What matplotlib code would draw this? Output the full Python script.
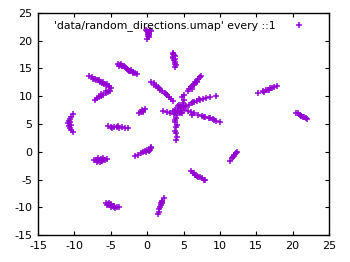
import numpy as np
import matplotlib
matplotlib.use('Agg')
import matplotlib.pyplot as plt

# Puntos, agrupados por cada "rama" del embedding
top_x = [-0.1, 0.0, 0.1, 0.2, 0.3, 0.5, 0.1, 0.0, 0.2, 0.4, 0.1, 0.3]
top_y = [21.9, 21.7, 21.5, 21.2, 21.0, 21.8, 20.8, 20.4, 20.6, 22.0, 21.3, 21.6]

vert_x = [3.6, 3.7, 3.5, 3.8, 3.7, 3.9, 3.8, 4.0, 3.9, 3.6, 3.8, 3.6]
vert_y = [17.8, 17.4, 17.1, 16.8, 16.5, 16.2, 15.9, 15.6, 15.3, 17.6, 17.2, 16.9]

diag_x = [-4.0, -3.7, -3.4, -3.1, -2.9, -2.6, -2.3, -2.0, -1.7, -1.4, -3.5, -2.8,
          -3.8, -3.2, -2.5, -2.2, -1.9, -3.6]
diag_y = [15.9, 15.6, 15.4, 15.2, 15.0, 14.8, 14.6, 14.4, 14.2, 14.0, 15.5, 14.9,
          15.5, 15.4, 14.6, 14.7, 14.2, 15.9]

arrow_x = [-8.0, -7.6, -7.2, -6.8, -6.5, -6.2, -5.9, -5.6, -5.3, -5.0,
           -5.1, -5.4, -5.7, -6.0, -6.3, -6.6, -6.9, -7.1,
           -7.4, -7.0, -6.6, -6.0, -5.5, -5.2, -5.6, -6.4]
arrow_y = [13.6, 13.4, 13.1, 12.9, 12.6, 12.4, 12.2, 12.0, 11.7, 11.4,
           11.0, 10.7, 10.5, 10.3, 10.1, 9.9, 9.7, 9.4,
           13.1, 13.0, 12.9, 12.5, 12.2, 11.9, 10.9, 10.4]

mid_x = [0.6, 0.9, 1.2, 1.5, 1.8, 2.1, 2.4, 2.7, 3.0, 3.3, 3.5, 1.0, 1.6, 2.6]
mid_y = [12.6, 12.3, 11.9, 11.6, 11.2, 10.9, 10.5, 10.2, 9.8, 9.5, 9.2, 12.0, 11.4, 10.4]

up_x = [5.6, 5.8, 6.0, 6.2, 6.4, 6.6, 6.8, 7.0, 7.2, 7.4, 6.1, 6.5, 6.9]
up_y = [11.0, 11.3, 11.6, 11.9, 12.2, 12.5, 12.8, 13.1, 13.4, 13.7, 11.3, 12.0, 12.6]

hub_x = [4.0, 4.3, 4.6, 4.9, 4.2, 4.5, 4.8, 3.8, 4.4, 5.0, 4.7, 4.1,
         4.9, 5.0, 4.8, 5.1, 2.2, 2.7, 3.2, 3.7, 3.5, 4.6, 5.2, 4.3]
hub_y = [7.0, 7.4, 7.8, 8.2, 7.9, 7.2, 6.9, 7.6, 8.5, 7.5, 8.0, 6.7,
         8.8, 9.3, 9.8, 10.2, 7.3, 7.1, 6.9, 6.8, 7.3, 7.0, 8.0, 8.3]

ray_x = [5.3, 5.7, 6.1, 6.5, 6.9, 7.3, 7.7, 8.1, 8.6, 9.5, 6.3, 7.1]
ray_y = [8.3, 8.5, 8.7, 8.9, 9.1, 9.3, 9.5, 9.6, 9.8, 10.0, 9.0, 9.5]

down_x = [5.6, 6.0, 6.5, 7.0, 7.5, 8.0, 8.5, 9.0, 9.5, 10.0, 6.2, 8.7, 7.8, 9.2]
down_y = [7.4, 7.1, 6.9, 6.7, 6.5, 6.3, 6.1, 5.9, 5.6, 5.4, 6.6, 6.0, 6.2, 5.8]

stem_x = [4.0, 3.9, 4.1, 4.0, 3.9, 4.0, 4.1, 4.0, 3.9]
stem_y = [6.0, 5.4, 4.9, 4.4, 3.8, 3.3, 2.7, 2.2, 5.7]

small_x = [-1.1, -0.8, -0.5, -0.3, -0.7, -0.6]
small_y = [7.0, 7.2, 7.4, 7.7, 7.6, 7.1]

right_x = [15.2, 15.9, 16.3, 16.6, 16.9, 17.2, 17.5, 17.8, 16.1, 16.8]
right_y = [10.6, 10.9, 11.1, 11.2, 11.4, 11.5, 11.7, 11.9, 10.8, 11.1]

far_x = [20.5, 20.8, 21.0, 21.2, 21.4, 21.6, 21.8, 22.0, 21.1]
far_y = [7.0, 6.9, 6.7, 6.5, 6.3, 6.2, 6.0, 5.9, 6.4]

curve_x = [-10.2, -10.4, -10.6, -10.8, -10.9, -10.8, -10.6, -10.4, -10.2, -10.6, -10.5]
curve_y = [6.8, 6.3, 5.9, 5.5, 5.1, 4.7, 4.3, 3.9, 3.6, 5.3, 4.9]

flat_x = [-5.4, -5.0, -4.6, -4.2, -3.8, -3.4, -3.0, -2.6, -4.8, -4.0]
flat_y = [4.6, 4.5, 4.4, 4.5, 4.3, 4.4, 4.2, 4.3, 4.2, 4.6]

origin_x = [-1.6, -1.2, -0.9, -0.6, -0.3, 0.0, 0.3, 0.6, 0.2, 0.4, -0.1, 0.5]
origin_y = [-0.7, -0.5, -0.3, -0.1, 0.1, 0.3, 0.4, 0.6, 0.1, 0.3, 0.0, 0.8]

low_x = [-7.3, -7.0, -6.8, -6.6, -6.4, -6.2, -6.0, -5.8, -5.5, -6.9, -6.7, -6.5, -6.3, -6.1]
low_y = [-1.5, -1.4, -1.6, -1.5, -1.3, -1.6, -1.4, -1.5, -1.3, -1.8, -1.2, -1.9, -1.7, -1.2]

bottom_x = [-5.7, -5.4, -5.1, -4.8, -4.5, -4.2, -3.9, -5.0, -4.6, -5.5, -5.2, -4.9, -4.4]
bottom_y = [-9.3, -9.4, -9.6, -9.7, -9.8, -9.9, -10.0, -9.5, -9.9, -9.6, -9.2, -9.9, -10.1]

spike_x = [1.5, 1.6, 1.7, 1.8, 1.9, 2.0, 2.1, 2.3, 1.9, 2.1]
spike_y = [-11.2, -10.8, -10.4, -10.0, -9.6, -9.2, -8.8, -8.4, -9.3, -9.1]

east_x = [11.4, 11.6, 11.8, 12.0, 12.2, 12.4, 11.9]
east_y = [-1.6, -1.2, -0.9, -0.6, -0.3, 0.0, -0.7]

south_x = [6.0, 6.3, 6.6, 6.9, 7.2, 7.5, 7.8, 8.0, 6.5, 7.0]
south_y = [-3.5, -3.8, -4.1, -4.3, -4.5, -4.8, -5.0, -5.1, -3.9, -4.5]

x_ticks = [-15, -10, -5, 0, 5, 10, 15, 20, 25]
y_ticks = [-15, -10, -5, 0, 5, 10, 15, 20, 25]

todos_x = np.concatenate([top_x, vert_x, diag_x, arrow_x, mid_x, up_x, hub_x, ray_x,
                          down_x, stem_x, small_x, right_x, far_x, curve_x, flat_x,
                          origin_x, low_x, bottom_x, spike_x, east_x, south_x])
todos_y = np.concatenate([top_y, vert_y, diag_y, arrow_y, mid_y, up_y, hub_y, ray_y,
                          down_y, stem_y, small_y, right_y, far_y, curve_y, flat_y,
                          origin_y, low_y, bottom_y, spike_y, east_y, south_y])

plt.rcParams['axes.unicode_minus'] = False
plt.rcParams['font.family'] = 'DejaVu Sans'

fig = plt.figure(figsize=(3.5, 2.62), dpi=100)
ax = fig.add_axes([38 / 350, 27 / 262, 291 / 350, 222 / 262])

ax.plot(todos_x, todos_y, linestyle='none', marker='+', color='#9400D3',
        markersize=5, markeredgewidth=1.1,
        label="'data/random_directions.umap' every ::1")

ax.set_xlim(-15, 25)
ax.set_ylim(-15, 25)
ax.set_xticks(x_ticks)
ax.set_yticks(y_ticks)
ax.tick_params(direction='in', length=3, width=0.8, top=True, right=True,
               labelsize=8, pad=4, colors='black')
for s in ax.spines.values():
    s.set_linewidth(1.0)

# Leyenda al estilo gnuplot: texto a la izquierda, marcador a la derecha
ax.legend(loc='upper right', bbox_to_anchor=(0.952, 1.0), frameon=False,
          markerfirst=False, fontsize=7.8, handlelength=1.5,
          handletextpad=1.45, borderaxespad=0.3)

fig.savefig('out.png', dpi=100)
